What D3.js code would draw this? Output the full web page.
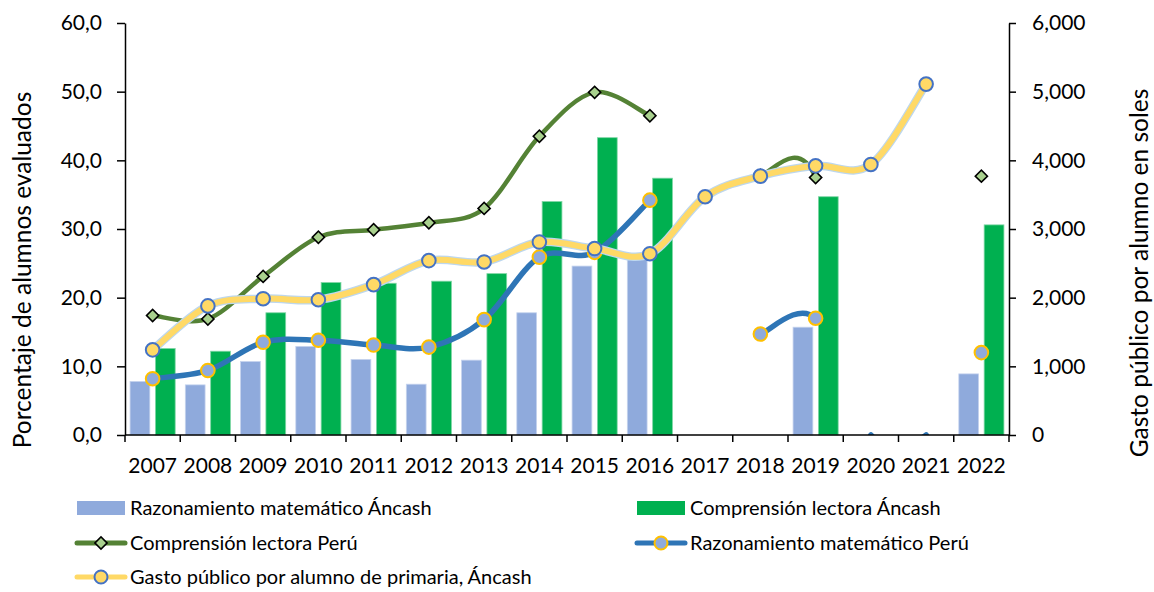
<!DOCTYPE html>
<html>
<head>
	<title></title>
	<meta charset="utf-8">
	<script src="https://d3js.org/d3.v7.min.js"></script>
	<style>
		body { margin: 0; background: #fff; }
		text { font-family: Lato, "Noto Sans", sans-serif; fill: #000; }
	</style>
</head>
<body>

	<script type="text/javascript">

		// years on the category axis
		var years = ["2007","2008","2009","2010","2011","2012","2013","2014","2015","2016","2017","2018","2019","2020","2021","2022"]

		// bars (left axis, %)
		var matAncash = [7.8, 7.3, 10.7, 12.9, 11.0, 7.4, 10.9, 17.8, 24.6, 25.6, null, null, 15.7, null, null, 8.9]
		var lecAncash = [12.6, 12.2, 17.8, 22.2, 22.1, 22.4, 23.5, 34.0, 43.3, 37.4, null, null, 34.7, null, null, 30.6]

		// lines (left axis, %)
		var lecPeru = [17.4, 16.9, 23.1, 28.8, 29.9, 30.9, 33.0, 43.5, 49.9, 46.5, null, 37.8, 37.5, 0, 0, 37.7]
		var matPeru = [8.2, 9.4, 13.5, 13.8, 13.1, 12.8, 16.8, 25.9, 26.6, 34.2, null, 14.7, 17.0, 0, 0, 12.0]

		// line (right axis, soles)
		var gasto = [1240, 1880, 1985, 1970, 2190, 2540, 2520, 2810, 2715, 2640, 3470, 3770, 3920, 3940, 5110, null]

		var leftTicks = [0, 10, 20, 30, 40, 50, 60]
		var rightTicks = [0, 1000, 2000, 3000, 4000, 5000, 6000]

		var W = 1154, H = 592
		var plot = {left: 125, right: 1009, top: 23, bottom: 435}
		var numFont = "'Open Sans', Lato, sans-serif"

		var svg = d3.select("body").append("svg")
			.attr("width", W)
			.attr("height", H)

		var x = d3.scaleBand()
			.domain(years)
			.range([plot.left, plot.right])
			.padding(0)

		var xSub = d3.scaleBand()
			.domain(["mat", "lec"])
			.range([0, x.bandwidth()])
			.paddingInner(0.22)
			.paddingOuter(0.2)

		var yL = d3.scaleLinear().domain([0, 60]).range([plot.bottom, plot.top])
		var yR = d3.scaleLinear().domain([0, 6000]).range([plot.bottom, plot.top])

		var cx = function (i) { return x(years[i]) + x.bandwidth() / 2 }

		svg.append("clipPath").attr("id", "plotclip")
			.append("rect")
			.attr("x", plot.left).attr("y", plot.top)
			.attr("width", plot.right - plot.left)
			.attr("height", plot.bottom - plot.top)

		// ---- bars
		function bars(values, key, color, stroke) {
			svg.append("g").selectAll("rect")
				.data(values.map(function (v, i) { return {v: v, i: i} }).filter(function (d) { return d.v != null }))
				.enter().append("rect")
				.attr("x", function (d) { return x(years[d.i]) + xSub(key) })
				.attr("width", xSub.bandwidth())
				.attr("y", function (d) { return yL(d.v) })
				.attr("height", function (d) { return yL(0) - yL(d.v) })
				.attr("fill", color)
				.attr("stroke", stroke)
				.attr("stroke-width", 0.8)
		}
		bars(matAncash, "mat", "#8faadc", "#c5d3ee")
		bars(lecAncash, "lec", "#00b050", "#7fd6a5")

		// excel-like smoothed segments: catmull-rom per segment, neighbours taken
		// from the whole series even if the joining segment is not drawn
		function smoothPath(values, y) {
			var pt = function (i) { return [cx(i), y(values[i])] }
			var path = ""
			for (var i = 0; i < values.length - 1; i++) {
				var a = values[i], b = values[i + 1]
				if (a == null || b == null) continue
				if (!((a > 0 && b > 0) || (a === 0 && b === 0))) continue
				var p1 = pt(i), p2 = pt(i + 1)
				var p0 = (i > 0 && values[i - 1] != null) ? pt(i - 1) : p1
				var p3 = (i + 2 < values.length && values[i + 2] != null) ? pt(i + 2) : p2
				var c1 = [p1[0] + (p2[0] - p0[0]) / 6, p1[1] + (p2[1] - p0[1]) / 6]
				var c2 = [p2[0] - (p3[0] - p1[0]) / 6, p2[1] - (p3[1] - p1[1]) / 6]
				path += "M" + p1 + "C" + c1 + " " + c2 + " " + p2
			}
			return path
		}

		var diamond = d3.symbol().type(d3.symbolSquare).size(74)

		function markers(values, y, draw) {
			var pts = values.map(function (v, i) { return {v: v, i: i} }).filter(function (d) { return d.v != null && d.v > 0 })
			draw(svg.append("g").selectAll("g").data(pts).enter().append("g")
				.attr("transform", function (d) { return "translate(" + cx(d.i) + "," + y(d.v) + ")" }))
		}

		// Comprension lectora Peru
		svg.append("path")
			.attr("d", smoothPath(lecPeru, yL))
			.attr("clip-path", "url(#plotclip)")
			.attr("fill", "none").attr("stroke", "#548235").attr("stroke-width", 4.5)
			.attr("stroke-linecap", "round")
		markers(lecPeru, yL, function (g) {
			g.append("path").attr("d", diamond).attr("transform", "rotate(45)")
				.attr("fill", "#a9d18e").attr("stroke", "#000").attr("stroke-width", 1.6)
		})

		// Razonamiento matematico Peru
		svg.append("path")
			.attr("d", smoothPath(matPeru, yL))
			.attr("clip-path", "url(#plotclip)")
			.attr("fill", "none").attr("stroke", "#2e75b6").attr("stroke-width", 5.5)
			.attr("stroke-linecap", "round")
		markers(matPeru, yL, function (g) {
			g.append("circle").attr("r", 6.8)
				.attr("fill", "#8faadc").attr("stroke", "#ffc000").attr("stroke-width", 2)
		})

		// Gasto publico (right axis)
		svg.append("path")
			.attr("d", smoothPath(gasto, yR))
			.attr("fill", "none").attr("stroke", "#bdd7ee").attr("stroke-width", 8.5)
			.attr("stroke-linecap", "round")
		svg.append("path")
			.attr("d", smoothPath(gasto, yR))
			.attr("fill", "none").attr("stroke", "#ffd966").attr("stroke-width", 6)
			.attr("stroke-linecap", "round")
		markers(gasto, yR, function (g) {
			g.append("circle").attr("r", 6.8)
				.attr("fill", "#ffd966").attr("stroke", "#4472c4").attr("stroke-width", 2)
		})

		// ---- axes
		var fmtL = function (d) { return d3.format(".1f")(d).replace(".", ",") }

		var axL = svg.append("g")
			.attr("transform", "translate(" + plot.left + ",0)")
			.call(d3.axisLeft(yL).tickValues(leftTicks).tickFormat(fmtL).tickSize(8).tickSizeOuter(0).tickPadding(15))
		var axR = svg.append("g")
			.attr("transform", "translate(" + plot.right + ",0)")
			.call(d3.axisRight(yR).tickValues(rightTicks).tickFormat(d3.format(",")).tickSize(7).tickSizeOuter(0).tickPadding(16))

		var axX = svg.append("g")
			.attr("transform", "translate(0," + plot.bottom + ")")
			.call(d3.axisBottom(x).tickSize(0).tickPadding(23))
		// category boundary ticks
		axX.selectAll(".bound")
			.data(years.concat(["end"]))
			.enter().append("line")
			.attr("x1", function (d, i) { return plot.left + i * x.bandwidth() })
			.attr("x2", function (d, i) { return plot.left + i * x.bandwidth() })
			.attr("y1", 0).attr("y2", 7)
			.attr("stroke", "#000").attr("stroke-width", 1.5)

		;[axL, axR, axX].forEach(function (a) {
			a.selectAll(".domain").attr("stroke", "#000").attr("stroke-width", 1.5)
			a.selectAll(".tick line").attr("stroke", "#000").attr("stroke-width", 1.5)
			a.selectAll("text").attr("font-family", numFont).attr("font-size", 21).attr("fill", "#000")
		})
		axX.select(".domain").attr("d", "M" + plot.left + ",0H" + plot.right)

		// axis titles
		svg.append("text")
			.attr("transform", "translate(31,270) rotate(-90)")
			.attr("text-anchor", "middle")
			.attr("font-size", 24.5)
			.text("Porcentaje de alumnos evaluados")
		svg.append("text")
			.attr("transform", "translate(1148,273) rotate(-90)")
			.attr("text-anchor", "middle")
			.attr("font-size", 24.5)
			.text("Gasto público por alumno en soles")

		// ---- legend
		var legend = [
			{label: "Razonamiento matemático Áncash", type: "bar", color: "#8faadc", x: 77, y: 508},
			{label: "Comprensión lectora Áncash", type: "bar", color: "#00b050", x: 637, y: 508},
			{label: "Comprensión lectora Perú", type: "diamond", color: "#548235", x: 77, y: 543},
			{label: "Razonamiento matemático Perú", type: "circle", color: "#2e75b6", fill: "#8faadc", edge: "#ffc000", x: 637, y: 543},
			{label: "Gasto público por alumno de primaria, Áncash", type: "circle", color: "#ffd966", fill: "#ffd966", edge: "#4472c4", x: 77, y: 577}
		]

		var lg = svg.append("g").selectAll("g").data(legend).enter().append("g")
			.attr("transform", function (d) { return "translate(" + d.x + "," + d.y + ")" })

		lg.filter(function (d) { return d.type == "bar" }).append("rect")
			.attr("x", 0).attr("y", -7).attr("width", 48).attr("height", 14)
			.attr("fill", function (d) { return d.color })
		lg.filter(function (d) { return d.type != "bar" }).append("line")
			.attr("x1", 0).attr("x2", 48).attr("y1", 0).attr("y2", 0)
			.attr("stroke", function (d) { return d.color }).attr("stroke-width", 5)
			.attr("stroke-linecap", "round")
		lg.filter(function (d) { return d.type == "diamond" }).append("path")
			.attr("d", diamond).attr("transform", "translate(24,0) rotate(45)")
			.attr("fill", "#a9d18e").attr("stroke", "#000").attr("stroke-width", 1.6)
		lg.filter(function (d) { return d.type == "circle" }).append("circle")
			.attr("cx", 24).attr("r", 6.5)
			.attr("fill", function (d) { return d.fill }).attr("stroke", function (d) { return d.edge }).attr("stroke-width", 2)

		lg.append("text")
			.attr("x", 53).attr("y", 7)
			.attr("font-size", 20)
			.text(function (d) { return d.label })

	</script>

</body>
</html>
